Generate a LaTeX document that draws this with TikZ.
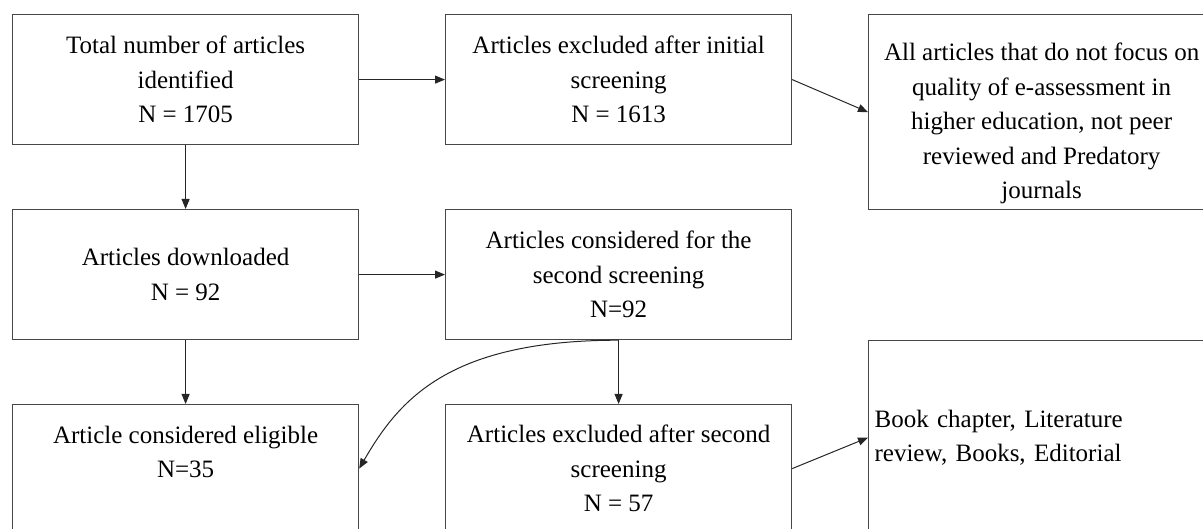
\documentclass[tikz,border=0pt]{standalone}
\usepackage{fontspec}
\setmainfont{Liberation Serif}
\usetikzlibrary{arrows.meta,calc}
\begin{document}
\begin{tikzpicture}[x=1pt,y=1pt,
  box/.style={draw=black!72, line width=1.2pt, minimum width=346pt, inner sep=0pt,
    align=center, font=\fontsize{25}{34.5}\selectfont, anchor=north west},
  txt/.style={align=center, font=\fontsize{25}{34.5}\selectfont, inner sep=0pt},
  arr/.style={draw=black!85, line width=1pt, -{Triangle[length=10pt,width=8pt]}}]
\useasboundingbox (0,0) rectangle (1203,-529);
\clip (0,0) rectangle (1203,-529);
\node[box, minimum height=130pt] (A) at (12,-14) {Total number of articles\\identified\\N = 1705};
\node[box, minimum height=130pt] (B) at (445,-14) {Articles excluded after initial\\screening\\N = 1613};
\node[box, minimum height=195pt,
  label={[txt, yshift=-11.5pt]center:{All articles that do not focus on\\quality of e-assessment in\\higher education, not peer\\reviewed and Predatory\\journals}}] (C) at (868,-14) {};
\node[box, minimum height=130pt] (D) at (12,-209) {Articles downloaded\\N = 92};
\node[box, minimum height=130pt] (E) at (445,-209) {Articles considered for the\\second screening\\N=92};
\node[box, minimum height=128pt,
  label={[txt, yshift=16.5pt]center:{Article considered eligible\\N=35}}] (F) at (12,-404) {};
\node[box, minimum height=128pt] (G) at (445,-404) {Articles excluded after second\\screening\\N = 57};
\node[box, minimum height=194pt, text width=334pt, inner xsep=6pt, align=left] (H) at (868,-340) {Book chapter, Literature\\review, Books, Editorial};
\draw[arr] (A.east) -- (B.west);
\draw[arr] (B.east) -- (C.west);
\draw[arr] (A.south) -- (D.north);
\draw[arr] (D.east) -- (E.west);
\draw[arr] (D.south) -- (F.north);
\draw[arr] (E.south) -- (G.north);
\draw[arr] (E.south) .. controls +(-170,0) and +(40,69) .. (F.east);
\draw[arr] (G.east) -- (H.west);
\end{tikzpicture}
\end{document}
